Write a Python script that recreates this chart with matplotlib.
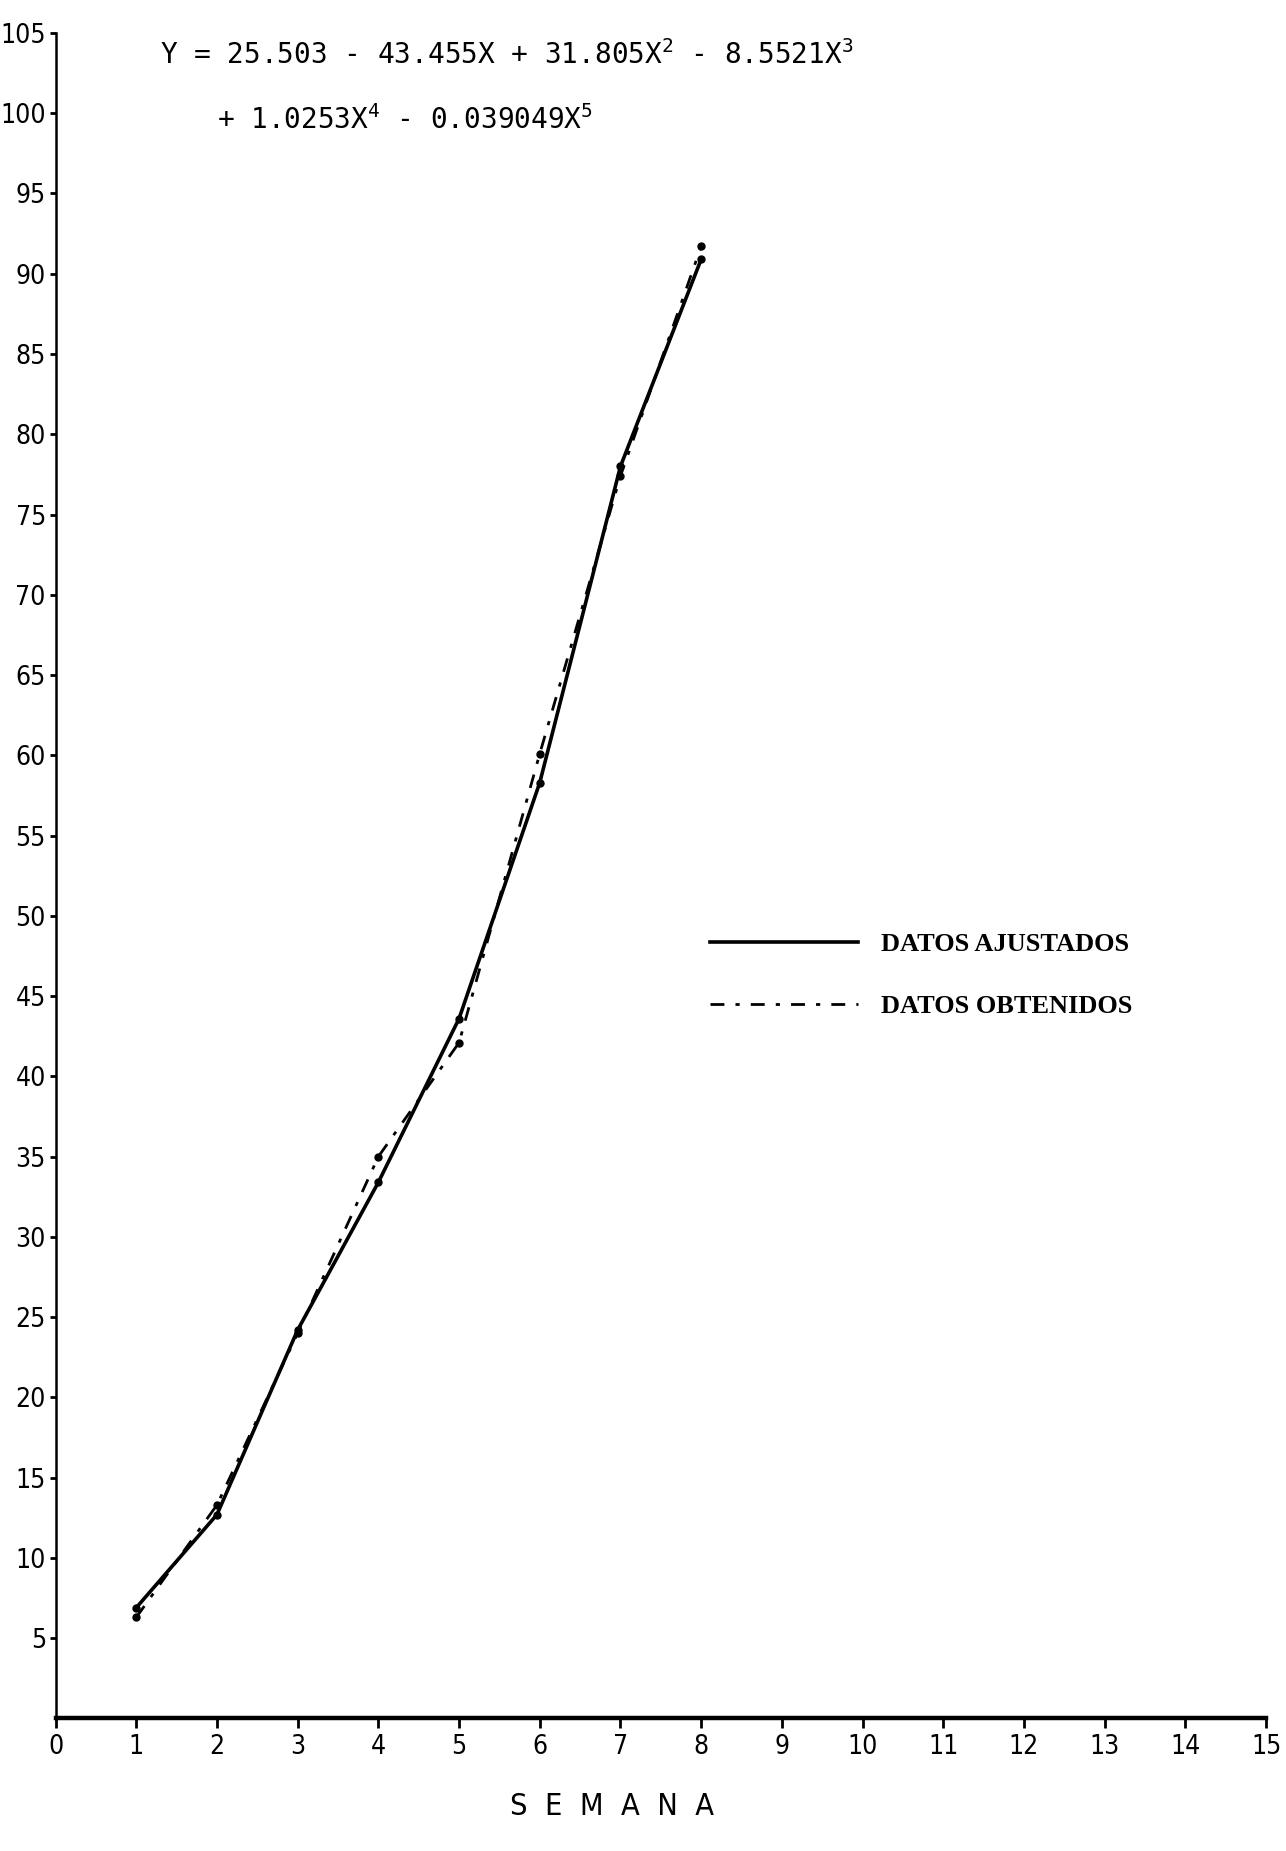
import matplotlib
matplotlib.use("Agg")
import matplotlib.pyplot as plt

plt.rcParams['mathtext.fontset'] = 'custom'
plt.rcParams['mathtext.rm'] = 'DejaVu Sans Mono'
plt.rcParams['mathtext.it'] = 'DejaVu Sans Mono'

# weeks and values
semanas = [1, 2, 3, 4, 5, 6, 7, 8]
ajustados = [6.9, 12.7, 24.2, 33.4, 43.6, 58.3, 78.0, 90.9]
obtenidos = [6.3, 13.3, 24.0, 35.0, 42.1, 60.1, 77.4, 91.7]

x_ticks = list(range(0, 16))
y_ticks = list(range(5, 106, 5))

tick_font = dict(family='DejaVu Sans', stretch='condensed', fontsize=19)

fig = plt.figure(figsize=(12.86, 18.51), dpi=100)
ax = fig.add_axes([0.0432, 0.0716, 0.9413, 0.9106])

ax.plot(semanas, ajustados, color='black', lw=2.6, marker='o', ms=5,
        label='DATOS AJUSTADOS')
ax.plot(semanas, obtenidos, color='black', lw=2.0, dashes=(5, 4, 1.5, 4),
        marker='o', ms=5, label='DATOS OBTENIDOS')

ax.set_xlim(0, 15)
ax.set_ylim(0, 105)
ax.set_xticks(x_ticks)
ax.set_yticks(y_ticks)
ax.set_xticklabels([str(v) for v in x_ticks], **tick_font)
ax.set_yticklabels([str(v) for v in y_ticks], **tick_font)
ax.tick_params(axis='x', direction='out', length=7, width=2, pad=4)
ax.tick_params(axis='y', direction='out', length=4, width=2, pad=3)

for s in ['top', 'right']:
    ax.spines[s].set_visible(False)
ax.spines['left'].set_linewidth(1.8)
ax.spines['bottom'].set_linewidth(3.2)

ax.text(1.3, 103.6, 'Y = 25.503 - 43.455X + 31.805X$^{2}$ - 8.5521X$^{3}$',
        family='DejaVu Sans Mono', fontsize=20, va='center', ha='left')
ax.text(2.0, 99.6, '+ 1.0253X$^{4}$ - 0.039049X$^{5}$',
        family='DejaVu Sans Mono', fontsize=20, va='center', ha='left')

leg = ax.legend(loc='upper left', bbox_to_anchor=(0.541, 0.466), frameon=False,
                handlelength=5.6, handletextpad=0.85, labelspacing=1.45,
                borderpad=0, borderaxespad=0,
                prop={'family': 'Liberation Serif', 'weight': 'bold', 'size': 19})
for h in leg.get_lines():
    h.set_marker('')

fig.text(0.476, 0.024, 'S  E  M  A  N  A', family='DejaVu Sans',
         stretch='condensed', fontsize=22, ha='center', va='center')

plt.savefig('out.png', dpi=100)
